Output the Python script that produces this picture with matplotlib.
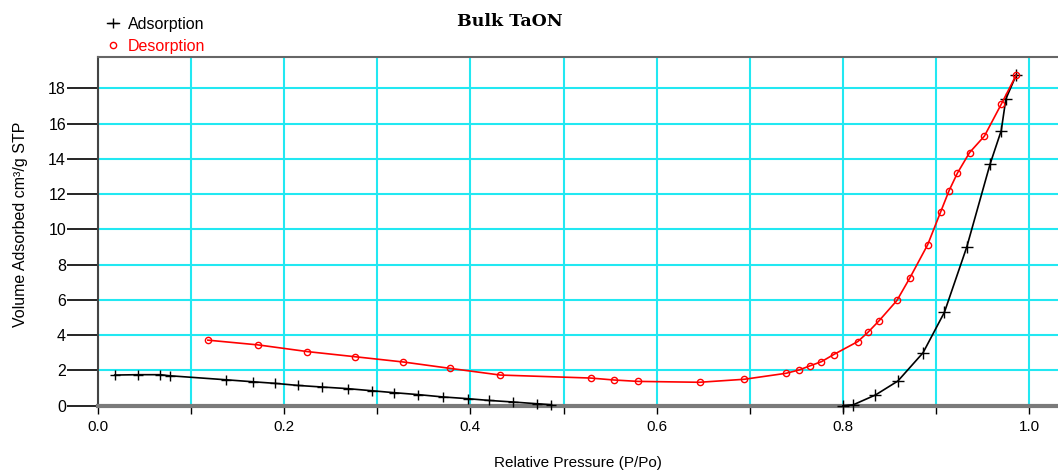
import numpy as np
import matplotlib.pyplot as plt
from matplotlib.lines import Line2D
from matplotlib.ticker import MultipleLocator, FormatStrFormatter

plt.rcParams['font.family'] = ['Liberation Sans', 'DejaVu Sans']

# adsorption branch (black +), low-pressure part and high-pressure part
ads_p_low = [0.018, 0.043, 0.067, 0.077, 0.138, 0.166, 0.190, 0.215, 0.241, 0.268,
             0.294, 0.318, 0.344, 0.370, 0.397, 0.420, 0.446, 0.472, 0.487]
ads_v_low = [1.74, 1.76, 1.76, 1.70, 1.47, 1.36, 1.27, 1.15, 1.06, 0.97,
             0.85, 0.74, 0.63, 0.50, 0.40, 0.30, 0.21, 0.11, 0.06]
ads_p_high = [0.800, 0.811, 0.835, 0.859, 0.886, 0.909, 0.933, 0.958, 0.970, 0.975, 0.986]
ads_v_high = [0.00, 0.05, 0.61, 1.40, 3.00, 5.30, 9.00, 13.70, 15.6, 17.40, 18.75]

# desorption branch (red o)
des_p = [0.986, 0.970, 0.952, 0.936, 0.923, 0.914, 0.905, 0.891, 0.872, 0.858,
         0.839, 0.827, 0.816, 0.790, 0.777, 0.765, 0.753, 0.739, 0.694, 0.646,
         0.580, 0.554, 0.529, 0.432, 0.378, 0.328, 0.276, 0.225, 0.172, 0.118]
des_v = [18.75, 17.10, 15.30, 14.36, 13.20, 12.20, 11.00, 9.13, 7.26, 5.97,
         4.83, 4.17, 3.64, 2.90, 2.50, 2.27, 2.03, 1.84, 1.50, 1.33,
         1.38, 1.46, 1.57, 1.74, 2.12, 2.48, 2.78, 3.07, 3.45, 3.72]

grid_col = '#22e8f2'

fig = plt.figure(figsize=(10.58, 4.71), dpi=100)
ax = fig.add_axes([0.0926, 0.1386, 0.9074, 0.741])

ax.plot(ads_p_low, ads_v_low, color='black', lw=1.2, marker='+', ms=7, mew=1.0, clip_on=False, zorder=3)
ax.plot(ads_p_high, ads_v_high, color='black', lw=1.2, marker='+', ms=8, mew=1.0, clip_on=False, zorder=3)
ax.plot(des_p, des_v, color='red', lw=1.2, marker='o', ms=4.5, mfc='none', mew=1.0, clip_on=False, zorder=4)

ax.set_xlim(0, 1.031)
ax.set_ylim(0, 19.8)

ax.xaxis.set_major_locator(MultipleLocator(0.2))
ax.xaxis.set_minor_locator(MultipleLocator(0.1))
ax.xaxis.set_major_formatter(FormatStrFormatter('%.1f'))
ax.yaxis.set_major_locator(MultipleLocator(2))
ax.grid(True, which='both', color=grid_col, lw=1.5, zorder=0)
ax.set_axisbelow(True)

ax.tick_params(axis='x', which='both', direction='out', length=6, width=1, labelsize=11, pad=4)
ax.tick_params(axis='y', direction='out', length=22, width=1.2, labelsize=11.5, pad=1)

ax.spines['right'].set_visible(False)
ax.spines['top'].set_color('#666666')
ax.spines['top'].set_linewidth(1.5)
ax.spines['bottom'].set_color('#7a7a7a')
ax.spines['bottom'].set_linewidth(3)
ax.spines['left'].set_color('#444444')
ax.spines['left'].set_linewidth(1.5)

ax.set_xlabel('Relative Pressure (P/Po)', fontsize=11, labelpad=16)
ax.set_ylabel('Volume Adsorbed cm³/g STP', fontsize=11.5)
ax.yaxis.set_label_coords(-0.073, 0.52)

fig.text(0.482, 0.955, 'Bulk TaON', family='DejaVu Serif', fontweight='bold',
         fontsize=12.5, ha='center', va='center')

handles = [Line2D([], [], color='black', lw=1, marker='+', ms=7),
           Line2D([], [], color='red', lw=0, marker='o', ms=4.5, mfc='none')]
fig.legend(handles, ['Adsorption', 'Desorption'], loc='upper left',
           bbox_to_anchor=(0.088, 0.995), frameon=False, fontsize=11.5,
           handlelength=0.7, handletextpad=0.6, labelspacing=0.45,
           labelcolor=['black', 'red'])

fig.savefig('out.png', dpi=100)
